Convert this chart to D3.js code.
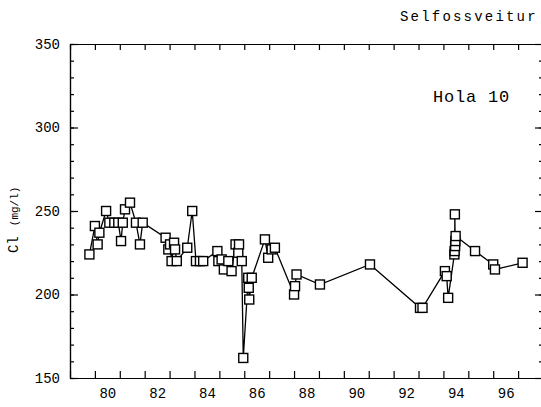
<!DOCTYPE html>
<html>
<head>
<meta charset="utf-8">
<script src="https://cdn.jsdelivr.net/npm/d3@7"></script>
<style>
  body { margin: 0; background: #fff; }
  svg { display: block; }
  text { font-family: "Liberation Mono", monospace; fill: #000; }
</style>
</head>
<body>
<svg width="541" height="407"></svg>
<script>
// sample dates (decimal years, 19xx) and chloride values, Hola 10
const years = [79.78, 80.00, 80.11, 80.18, 80.45, 80.58, 80.78, 80.94, 81.05, 81.12,
  81.21, 81.41, 81.65, 81.81, 81.92, 82.84, 82.95, 83.02, 83.08, 83.18,
  83.22, 83.29, 83.71, 83.91, 84.06, 84.22, 84.35, 84.92, 84.96, 85.09,
  85.18, 85.36, 85.49, 85.65, 85.76, 85.79, 85.90, 85.96, 86.16, 86.18,
  86.20, 86.30, 86.83, 86.96, 87.10, 87.23, 88.00, 88.04, 88.10, 89.04,
  91.05, 93.06, 93.16, 94.06, 94.13, 94.19, 94.44, 94.45, 94.46, 94.47,
  94.48, 94.49, 95.27, 96.00, 96.07, 97.18];
const chloride = [224, 241, 230, 237, 250, 243, 243, 243, 232, 243,
  251, 255, 243, 230, 243, 234, 227, 230, 220, 231,
  227, 220, 228, 250, 220, 220, 220, 226, 220, 221,
  215, 220, 214, 230, 225, 230, 220, 162, 210, 204,
  197, 210, 233, 222, 227, 228, 200, 205, 212, 206,
  218, 192, 192, 214, 211, 198, 224, 226, 248, 229,
  232, 235, 226, 218, 215, 219];

const yearTicks = d3.range(79, 99);
const yearLabels = [80, 82, 84, 86, 88, 90, 92, 94, 96];
const clMajor = [150, 200, 250, 300, 350];
const clMinor = d3.range(150, 351, 10);

const svg = d3.select("svg");
const m = {left: 70, right: 543, top: 44, bottom: 378};

const x = d3.scaleLinear().domain([79, 98]).range([m.left, m.right]);
const y = d3.scaleLinear().domain([150, 350]).range([m.bottom, m.top]);

function style(g) {
  g.selectAll("path, line").attr("stroke", "#000").attr("stroke-width", 1.2);
  g.selectAll("text").attr("font-family", "Liberation Mono, monospace").attr("font-size", 14);
}

// frame + ticks
svg.append("g").attr("transform", "translate(0," + m.bottom + ")")
  .call(d3.axisBottom(x).tickValues(yearTicks).tickSize(-7).tickSizeOuter(0).tickFormat(""))
  .call(style);
svg.append("g").attr("transform", "translate(0," + m.top + ")")
  .call(d3.axisTop(x).tickValues(yearTicks).tickSize(-6).tickSizeOuter(0).tickFormat(""))
  .call(style);
svg.append("g").attr("transform", "translate(0," + m.bottom + ")")
  .call(d3.axisBottom(x).tickValues(yearLabels.map(d => d + 0.5)).tickSize(0).tickPadding(10)
    .tickFormat(d => Math.floor(d)))
  .call(g => g.select(".domain").remove())
  .call(style);

svg.append("g").attr("transform", "translate(" + m.left + ",0)")
  .call(d3.axisLeft(y).tickValues(clMinor).tickSize(-4).tickSizeOuter(0).tickFormat(""))
  .call(style);
svg.append("g").attr("transform", "translate(" + m.left + ",0)")
  .call(d3.axisLeft(y).tickValues(clMajor).tickSize(-8).tickSizeOuter(0).tickPadding(10))
  .call(style);
svg.append("g").attr("transform", "translate(" + m.right + ",0)")
  .call(d3.axisRight(y).tickValues(clMinor).tickSize(-4).tickSizeOuter(0).tickFormat(""))
  .call(style);
svg.append("g").attr("transform", "translate(" + m.right + ",0)")
  .call(d3.axisRight(y).tickValues(clMajor).tickSize(-8).tickSizeOuter(0).tickFormat(""))
  .call(style);

// series
const pts = years.map((d, i) => ({year: d, cl: chloride[i]}));
const line = d3.line().x(d => x(d.year)).y(d => y(d.cl));

svg.append("path")
  .datum(pts)
  .attr("d", line)
  .attr("fill", "none")
  .attr("stroke", "#000")
  .attr("stroke-width", 1.3);

svg.selectAll(".pt")
  .data(pts)
  .enter().append("rect")
  .attr("class", "pt")
  .attr("x", d => x(d.year) - 4.5)
  .attr("y", d => y(d.cl) - 4.5)
  .attr("width", 9)
  .attr("height", 9)
  .attr("fill", "#fff")
  .attr("stroke", "#000")
  .attr("stroke-width", 1.4);

// texts
svg.append("text")
  .attr("x", 400).attr("y", 21)
  .attr("font-size", 14)
  .attr("letter-spacing", 2.2)
  .text("Selfossveitur");

svg.append("text")
  .attr("x", 433).attr("y", 102)
  .attr("font-size", 17)
  .attr("letter-spacing", 0.8)
  .text("Hola 10");

const ylab = svg.append("text")
  .attr("transform", "translate(18,253) rotate(-90)");
ylab.append("tspan").attr("font-size", 14).text("Cl");
ylab.append("tspan").attr("font-size", 11).attr("dx", 10).text("(mg/l)");
</script>
</body>
</html>
